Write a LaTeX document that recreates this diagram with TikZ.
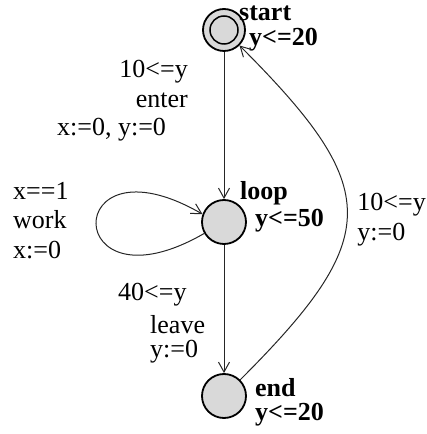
\documentclass[tikz,border=0pt]{standalone}
\usepackage{fontspec}
\setmainfont{Liberation Serif}
\usetikzlibrary{arrows.meta}

\begin{document}
\begin{tikzpicture}[x=1pt, y=1pt,
    loc/.style={circle, draw, line width=1.8pt, fill=gray!30, minimum size=44pt, inner sep=0pt},
    locname/.style={font=\fontsize{26}{30}\selectfont\bfseries, inner sep=0pt, anchor=west},
    lbl/.style={font=\fontsize{26}{30}\selectfont, inner sep=0pt},
    trans/.style={-{Straight Barb[length=10pt, width=11pt]}, line width=1pt, draw=black!85}
]
\useasboundingbox (0,0) rectangle (427,434);

\node[loc, minimum size=42pt] (start) at (224,404) {};
\node[loc, minimum size=28pt, line width=1.5pt] (startin) at (start) {};
\node[loc] (loop) at (224,212) {};
\node[loc] (end) at (224,38) {};

\node[locname] (startname) at (239,421) {start};
\node[locname] (startinv) at (249,394) {y<=20};
\node[locname] (loopname) at (240,241) {loop};
\node[locname] (loopinv) at (255,213) {y<=50};
\node[locname] (endname) at (255,46) {end};
\node[locname] (endinv) at (255,19) {y<=20};

\node[lbl, anchor=east] (enterguard) at (188,362) {10<=y};
\node[lbl, anchor=east] (entersync) at (188,334) {enter};
\node[lbl, anchor=west] (enterupd) at (57,304) {x:=0, y:=0};

\node[lbl, anchor=west] (workguard) at (13,243) {x==1};
\node[lbl, anchor=west] (worksync) at (13,214) {work};
\node[lbl, anchor=west] (workupd) at (13,184) {x:=0};

\node[lbl, anchor=west] (leaveguard) at (118,139) {40<=y};
\node[lbl, anchor=west] (leavesync) at (150,109) {leave};
\node[lbl, anchor=west] (leaveupd) at (150,82) {y:=0};

\node[lbl, anchor=east] (backguard) at (426,229) {10<=y};
\node[lbl, anchor=west] (backupd) at (backguard.west |- 0,199) {y:=0};

\draw[trans] (start) -- (loop);
\draw[trans] (loop.-150) .. controls +(-150:165) and +(150:165) .. (loop.160);
\draw[trans] (loop) -- (end);
\draw[trans] (end) .. controls +(45:225) and +(-45:225) .. (start);

\end{tikzpicture}
\end{document}
